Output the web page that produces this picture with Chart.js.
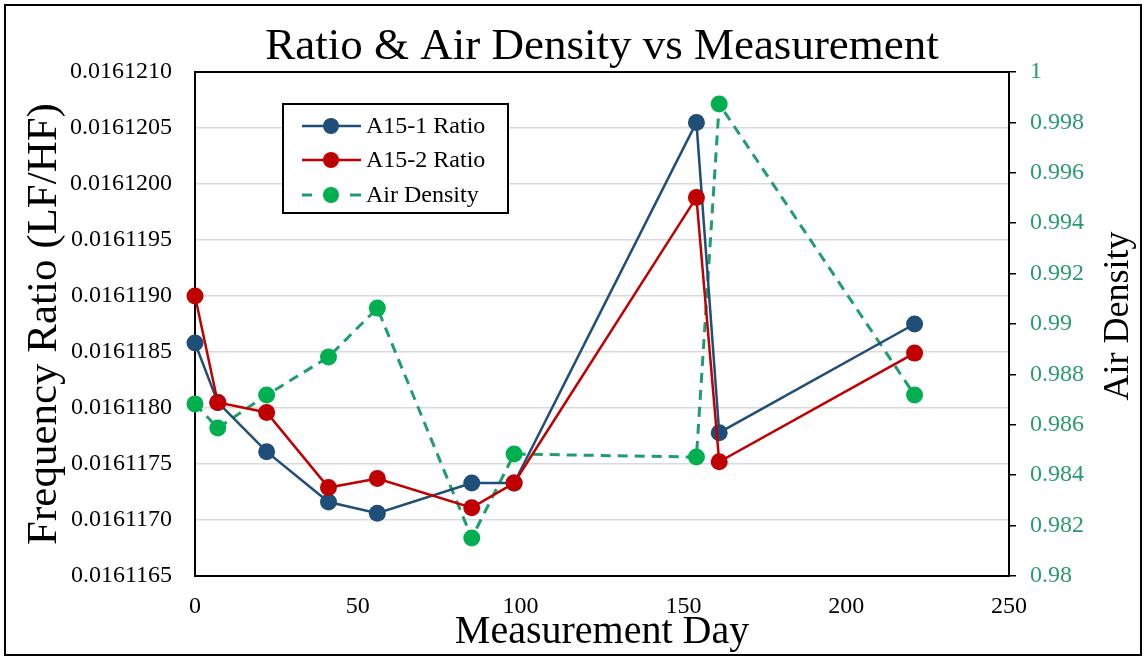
<!DOCTYPE html>
<html>
<head>
<meta charset="utf-8">
<script src="https://cdn.jsdelivr.net/npm/chart.js@4/dist/chart.umd.min.js"></script>
<style>
  html, body { margin: 0; padding: 0; background: #ffffff; }
  #wrap { width: 1146px; height: 658px; position: relative; }
</style>
</head>
<body>
<div id="wrap"><canvas id="c" width="1146" height="658"></canvas></div>
<script>
// ---- Data ----
const days = [0, 7, 22, 41, 56, 85, 98, 154, 161, 221];
const ratioA151 = [0.01611858, 0.01611805, 0.01611761, 0.01611716, 0.01611706, 0.01611733, 0.01611733, 0.01612055, 0.01611778, 0.01611875];
const ratioA152 = [0.01611900, 0.01611805, 0.01611796, 0.01611729, 0.01611737, 0.01611711, 0.01611733, 0.01611988, 0.01611752, 0.01611849];
const airDensity = [0.98683, 0.98587, 0.98718, 0.98869, 0.99063, 0.98151, 0.98484, 0.98472, 0.99873, 0.98718];
const xTicks = [0, 50, 100, 150, 200, 250];
const ratioTicks = [0.0161165, 0.0161170, 0.0161175, 0.0161180, 0.0161185, 0.0161190, 0.0161195, 0.0161200, 0.0161205, 0.0161210];
const densityTicks = [0.98, 0.982, 0.984, 0.986, 0.988, 0.99, 0.992, 0.994, 0.996, 0.998, 1];
const seriesNames = ['A15-1 Ratio', 'A15-2 Ratio', 'Air Density'];
const titleText = 'Ratio & Air Density vs Measurement';
const xTitle = 'Measurement Day';
const yTitle = 'Frequency Ratio (LF/HF)';
const y2Title = 'Air Density';

const SERIF = "'Liberation Serif', 'Times New Roman', serif";
const BLUE = '#1f4e79', RED = '#c00000', GREEN_PT = '#00b050', GREEN_LN = '#1f9e6c', GREEN_TXT = '#2b9b6b';

const toXY = (xs, ys) => xs.map((x, i) => ({ x: x, y: ys[i] }));

// ---- Plugins ----
const framePlugin = {
  id: 'frame',
  beforeDraw(chart) {
    const ctx = chart.ctx;
    ctx.save();
    ctx.fillStyle = '#ffffff';
    ctx.fillRect(0, 0, chart.width, chart.height);
    ctx.restore();
  },
  beforeDatasetsDraw(chart) {
    const { ctx, chartArea: a } = chart;
    ctx.save();
    ctx.strokeStyle = '#000000';
    ctx.lineWidth = 2;
    ctx.strokeRect(a.left, a.top, a.right - a.left, a.bottom - a.top);
    ctx.restore();
  },
  afterDraw(chart) {
    const ctx = chart.ctx;
    ctx.save();
    // outer border of the picture
    ctx.strokeStyle = '#000000';
    ctx.lineWidth = 2;
    ctx.strokeRect(5, 5, chart.width - 10, chart.height - 8);
    // right axis title, reading bottom to top
    ctx.translate(1119, 316);
    ctx.rotate(-Math.PI / 2);
    ctx.fillStyle = '#000000';
    ctx.font = "36px " + SERIF;
    ctx.textAlign = 'center';
    ctx.textBaseline = 'middle';
    ctx.fillText(y2Title, 0, 0);
    ctx.restore();
  }
};

const legendPlugin = {
  id: 'boxLegend',
  afterDraw(chart) {
    const ctx = chart.ctx;
    const bx = 283, by = 104, bw = 225, bh = 109;
    ctx.save();
    ctx.fillStyle = '#ffffff';
    ctx.fillRect(bx, by, bw, bh);
    ctx.strokeStyle = '#000000';
    ctx.lineWidth = 2;
    ctx.strokeRect(bx, by, bw, bh);
    const rows = [126, 160, 195];
    chart.data.datasets.forEach((ds, i) => {
      const y = rows[i];
      ctx.strokeStyle = ds.borderColor;
      ctx.lineWidth = ds.borderWidth;
      ctx.beginPath();
      if (ds.borderDash && ds.borderDash.length) {
        ctx.moveTo(302, y); ctx.lineTo(312, y);
        ctx.moveTo(350, y); ctx.lineTo(361, y);
      } else {
        ctx.moveTo(302, y); ctx.lineTo(361, y);
      }
      ctx.stroke();
      ctx.fillStyle = ds.pointBackgroundColor;
      ctx.beginPath();
      ctx.arc(331, y, 8, 0, Math.PI * 2);
      ctx.fill();
      ctx.fillStyle = '#000000';
      ctx.font = "24px " + SERIF;
      ctx.textAlign = 'left';
      ctx.textBaseline = 'middle';
      ctx.fillText(ds.label, 366, y + 1);
    });
    ctx.restore();
  }
};

new Chart(document.getElementById('c'), {
  type: 'line',
  data: {
    datasets: [
      {
        label: seriesNames[0], data: toXY(days, ratioA151), yAxisID: 'y',
        borderColor: BLUE, backgroundColor: BLUE, borderWidth: 2.5,
        pointRadius: 8.5, pointBackgroundColor: BLUE, pointBorderColor: BLUE, pointBorderWidth: 0,
        tension: 0, clip: false, order: 2
      },
      {
        label: seriesNames[1], data: toXY(days, ratioA152), yAxisID: 'y',
        borderColor: RED, backgroundColor: RED, borderWidth: 2.5,
        pointRadius: 8.5, pointBackgroundColor: RED, pointBorderColor: RED, pointBorderWidth: 0,
        tension: 0, clip: false, order: 1
      },
      {
        label: seriesNames[2], data: toXY(days, airDensity), yAxisID: 'y2',
        borderColor: GREEN_LN, backgroundColor: GREEN_PT, borderWidth: 3, borderDash: [10, 7],
        pointRadius: 8.5, pointBackgroundColor: GREEN_PT, pointBorderColor: GREEN_PT, pointBorderWidth: 0,
        tension: 0, clip: false, order: 3
      }
    ]
  },
  options: {
    responsive: false,
    animation: false,
    devicePixelRatio: 1,
    layout: { padding: 0 },
    plugins: {
      legend: { display: false },
      tooltip: { enabled: false },
      title: {
        display: true, text: titleText, fullSize: false,
        color: '#000000',
        font: { family: SERIF, size: 45, weight: 'normal', lineHeight: 1.1 },
        padding: { top: 22.5, bottom: 0 }
      }
    },
    scales: {
      x: {
        type: 'linear', position: 'bottom', min: 0, max: 250,
        afterBuildTicks: (s) => { s.ticks = xTicks.map(v => ({ value: v })); },
        afterFit: (s) => { s.height = 82; },
        grid: { display: false, drawTicks: false },
        border: { display: true, color: '#000000', width: 2 },
        ticks: { color: '#000000', font: { family: SERIF, size: 24 }, padding: 16, maxRotation: 0 },
        title: { display: true, text: xTitle, color: '#000000',
          font: { family: SERIF, size: 40, lineHeight: 1.2 }, padding: { top: 0, bottom: 2 } }
      },
      y: {
        type: 'linear', position: 'left', min: ratioTicks[0], max: ratioTicks[ratioTicks.length - 1],
        afterBuildTicks: (s) => { s.ticks = ratioTicks.map(v => ({ value: v })); },
        afterFit: (s) => { s.width = 195; },
        grid: { color: '#d9d9d9', lineWidth: 1.5, drawTicks: false },
        border: { display: true, color: '#000000', width: 2 },
        ticks: { color: '#000000', font: { family: SERIF, size: 24 }, padding: 23,
          callback: (v) => Number(v).toFixed(7) },
        title: { display: true, text: yTitle, color: '#000000',
          font: { family: SERIF, size: 43, lineHeight: 1.2 }, padding: { top: 19, bottom: 0 } }
      },
      y2: {
        type: 'linear', position: 'right', min: densityTicks[0], max: densityTicks[densityTicks.length - 1],
        afterBuildTicks: (s) => { s.ticks = densityTicks.map(v => ({ value: v })); },
        afterFit: (s) => { s.width = 137; },
        grid: { display: true, drawOnChartArea: false, drawTicks: true, tickLength: 7, color: '#000000', lineWidth: 1.5 },
        border: { display: true, color: '#000000', width: 2 },
        ticks: { color: GREEN_TXT, font: { family: SERIF, size: 24 }, padding: 14,
          callback: (v) => String(Number(Number(v).toFixed(3))) },
        title: { display: false }
      }
    }
  },
  plugins: [framePlugin, legendPlugin]
});
</script>
</body>
</html>
